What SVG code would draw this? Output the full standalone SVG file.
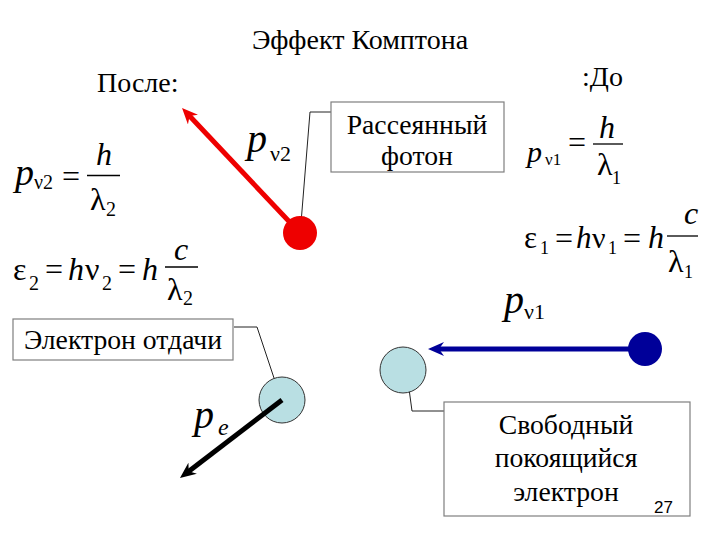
<svg xmlns="http://www.w3.org/2000/svg" width="720" height="540" viewBox="0 0 720 540">
<defs>
<style>
text{font-family:'Liberation Serif','Times New Roman',serif;fill:#000}
.it{font-style:italic}
.lbl{font-size:27.7px;text-anchor:middle}
.t{font-size:28px}
.box{fill:#fff;stroke:#7f7f7f;stroke-width:1.2}
.lead{fill:none;stroke:#222;stroke-width:1}
.frac{stroke:#000;stroke-width:1.3}
</style>
<marker id="hRed" viewBox="0 0 16 14" markerWidth="16" markerHeight="14" refX="6" refY="7" orient="auto" markerUnits="userSpaceOnUse"><path d="M0,0 L16,7 L0,14 L5,7 Z" fill="#ee0000"/></marker>
<marker id="hBlue" viewBox="0 0 16 14" markerWidth="16" markerHeight="14" refX="6" refY="7" orient="auto" markerUnits="userSpaceOnUse"><path d="M0,0 L16,7 L0,14 L5,7 Z" fill="#000099"/></marker>
<marker id="hBlack" viewBox="0 0 16 14" markerWidth="16" markerHeight="14" refX="6" refY="7" orient="auto" markerUnits="userSpaceOnUse"><path d="M0,0 L16,7 L0,14 L5,7 Z" fill="#000"/></marker>
<marker id="hSmall" viewBox="0 0 8 6" markerWidth="8" markerHeight="6" refX="7" refY="3" orient="auto" markerUnits="userSpaceOnUse"><path d="M0,0 L8,3 L0,6 L2,3 Z" fill="#000"/></marker>
</defs>
<rect width="720" height="540" fill="#fff"/>

<text class="t" x="360" y="49" text-anchor="middle">Эффект Комптона</text>
<text class="t" x="97" y="92">После:</text>
<text class="t" x="582" y="86">:До</text>

<g id="formula-p2">
<text class="it" x="15" y="185" font-size="38">p</text>
<text x="34" y="189" font-size="20">ν2</text>
<text x="62" y="187" font-size="32">=</text>
<text class="it" x="104" y="165" font-size="32" text-anchor="middle">h</text>
<line class="frac" x1="87" y1="175.5" x2="120" y2="175.5"/>
<text x="90" y="210" font-size="32">λ</text>
<text x="106" y="216" font-size="20">2</text>
</g>
<g id="formula-e2">
<text x="13" y="280" font-size="32">ε</text>
<text x="29" y="290" font-size="20">2</text>
<text x="45" y="280" font-size="32">=</text>
<text class="it" x="68" y="280" font-size="32">h</text>
<text x="85" y="280" font-size="32">ν</text>
<text x="102" y="290" font-size="20">2</text>
<text x="118" y="280" font-size="32">=</text>
<text class="it" x="142" y="280" font-size="32">h</text>
<text class="it" x="181" y="260" font-size="32" text-anchor="middle">c</text>
<line class="frac" x1="165" y1="267" x2="198" y2="267"/>
<text x="167" y="300" font-size="32">λ</text>
<text x="183" y="305" font-size="20">2</text>
</g>

<g id="formula-p1">
<text class="it" x="527" y="162" font-size="30">p</text>
<text x="545" y="165" font-size="17">ν1</text>
<text x="568" y="153" font-size="32">=</text>
<text class="it" x="607" y="138" font-size="32" text-anchor="middle">h</text>
<line class="frac" x1="593" y1="144" x2="623" y2="144"/>
<text x="597" y="175" font-size="32">λ</text>
<text x="612" y="184" font-size="18">1</text>
</g>
<g id="formula-e1">
<text x="524" y="248" font-size="31">ε</text>
<text x="540" y="254" font-size="18">1</text>
<text x="555" y="249" font-size="32">=</text>
<text class="it" x="576" y="248" font-size="31">h</text>
<text x="592" y="248" font-size="30">ν</text>
<text x="608" y="254" font-size="18">1</text>
<text x="623" y="249" font-size="32">=</text>
<text class="it" x="648" y="248" font-size="32">h</text>
<text class="it" x="691" y="224" font-size="32" text-anchor="middle">c</text>
<line class="frac" x1="667" y1="236" x2="698" y2="236"/>
<text x="668" y="272" font-size="32">λ</text>
<text x="684" y="278" font-size="18">1</text>
</g>

<g id="connectors">
<line x1="300" y1="233" x2="188.9" y2="115.3" stroke="#ee0000" stroke-width="5" marker-end="url(#hRed)"/>
<line x1="645" y1="349" x2="438" y2="349" stroke="#000099" stroke-width="5" marker-end="url(#hBlue)"/>
<polyline class="lead" points="331,112 310,112 301,223" marker-end="url(#hSmall)"/>
<polyline class="lead" points="234,327 257,327 278,390" marker-end="url(#hSmall)"/>
<polyline class="lead" points="444,411 412,411 407,374" marker-end="url(#hSmall)"/>
</g>

<g id="photon-scattered">
<circle cx="300" cy="233" r="17" fill="#ee0000"/>
</g>
<g id="photon-incident">
<circle cx="645" cy="349" r="17" fill="#000099"/>
</g>
<g id="electron-free">
<circle cx="403" cy="370" r="23" fill="#b9dfe3" stroke="#333" stroke-width="1"/>
</g>
<g id="electron-recoil">
<circle cx="282" cy="400" r="23" fill="#b9dfe3" stroke="#333" stroke-width="1"/>
<line x1="282" y1="400" x2="187.9" y2="471.9" stroke="#000" stroke-width="5" marker-end="url(#hBlack)"/>
</g>

<g id="label-pv2">
<text class="it" x="247" y="152" font-size="40">p</text>
<text x="270" y="161" font-size="22">ν2</text>
</g>
<g id="label-pv1">
<text class="it" x="504" y="313" font-size="40">p</text>
<text x="524" y="319" font-size="22">ν1</text>
</g>
<g id="label-pe">
<text class="it" x="194" y="428" font-size="40">p</text>
<text class="it" x="218" y="435" font-size="24">e</text>
</g>

<g id="box-scattered">
<rect class="box" x="331" y="102" width="173" height="70"/>
<text class="lbl" x="417" y="134">Рассеянный</text>
<text class="lbl" x="417" y="165">фотон</text>
</g>
<g id="box-recoil">
<rect class="box" x="13" y="319" width="220" height="41"/>
<text class="lbl" x="123" y="349">Электрон отдачи</text>
</g>
<g id="box-free">
<rect class="box" x="444" y="402" width="246" height="114"/>
<text class="lbl" x="566" y="434">Свободный</text>
<text class="lbl" x="566" y="467">покоящийся</text>
<text class="lbl" x="566" y="501">электрон</text>
</g>
<text x="654" y="513" style="font-family:'Liberation Sans',Arial,sans-serif" font-size="17">27</text>
</svg>
